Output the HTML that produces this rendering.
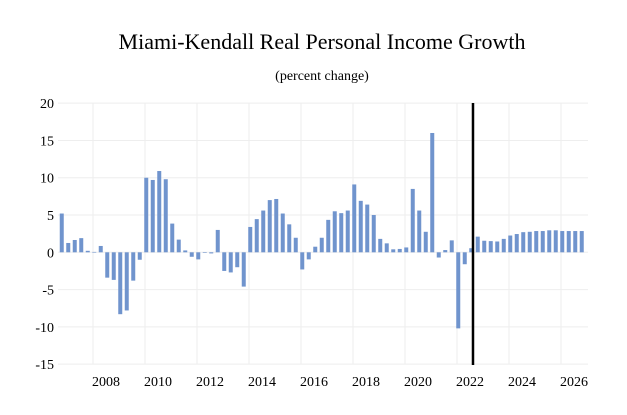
<!DOCTYPE html>
<html><head><meta charset="utf-8"><style>
body{margin:0;background:#fff;}
svg{display:block;font-family:"Liberation Serif",serif;}
</style></head><body>
<svg id="chart" width="627" height="415">
<text x="322" y="49" text-anchor="middle" font-size="22">Miami-Kendall Real Personal Income Growth</text>
<text x="322" y="80" text-anchor="middle" font-size="14">(percent change)</text>
<g id="grid"></g><g id="bars"></g><g id="axes"></g>
</svg>
<script>
const values=[5.2,1.25,1.65,1.9,0.2,0.05,0.85,-3.4,-3.7,-8.3,-7.8,-3.8,-1.0,10.0,9.7,10.9,9.8,3.85,1.7,0.25,-0.6,-0.95,-0.05,-0.15,3.0,-2.5,-2.7,-2.0,-4.6,3.4,4.45,5.6,7.0,7.15,5.2,3.75,1.95,-2.3,-0.95,0.75,1.95,4.35,5.5,5.25,5.6,9.1,6.9,6.4,5.0,1.8,1.2,0.4,0.45,0.65,8.5,5.6,2.75,16.0,-0.7,0.3,1.6,-10.2,-1.6,0.55,2.1,1.55,1.5,1.45,1.8,2.25,2.45,2.7,2.75,2.85,2.85,2.95,2.95,2.85,2.85,2.85,2.85];
const startYear=2006.875;
const yTicks=[20,15,10,5,0,-5,-10,-15];
const xTicks=[2008,2010,2012,2014,2016,2018,2020,2022,2024,2026];
const forecastStart=2022.615;
const NS="http://www.w3.org/2000/svg";
function y(v){return 252.3-v*7.457;}
function xYear(t){return 93+26*(t-2008);}
function mk(tag,attrs,parent){const e=document.createElementNS(NS,tag);for(const k in attrs)e.setAttribute(k,attrs[k]);parent.appendChild(e);return e;}
const grid=document.getElementById('grid'),bars=document.getElementById('bars'),axes=document.getElementById('axes');
yTicks.forEach(v=>{
 const l=mk('line',{x1:58,x2:588,y1:y(v),y2:y(v),stroke:'#eeeeee','stroke-width':1},grid);
 
 
 const t=mk('text',{x:54,y:y(v)+5,'text-anchor':'end','font-size':14},axes);
 t.textContent=v;
 
 
});
xTicks.forEach(yr=>{
 const l=mk('line',{x1:xYear(yr),x2:xYear(yr),y1:103,y2:364,stroke:'#eeeeee','stroke-width':1},grid);
 
 
 const t=mk('text',{x:xYear(yr+0.5),y:386,'text-anchor':'middle','font-size':14},axes);
 t.textContent=yr;
 
 
});
values.forEach((v,i)=>{
 const cx=xYear(startYear+i*0.25)-2;
 const r=mk('rect',{x:cx-2,y:Math.min(y(v),y(0)),width:4,height:Math.max(Math.abs(y(v)-y(0)),0.6),fill:'#7094cd'},bars);
 
 
});
const fl=mk('line',{x1:xYear(forecastStart),x2:xYear(forecastStart),y1:103,y2:365,stroke:'#000','stroke-width':2.5},axes);


</script>
</body></html>
